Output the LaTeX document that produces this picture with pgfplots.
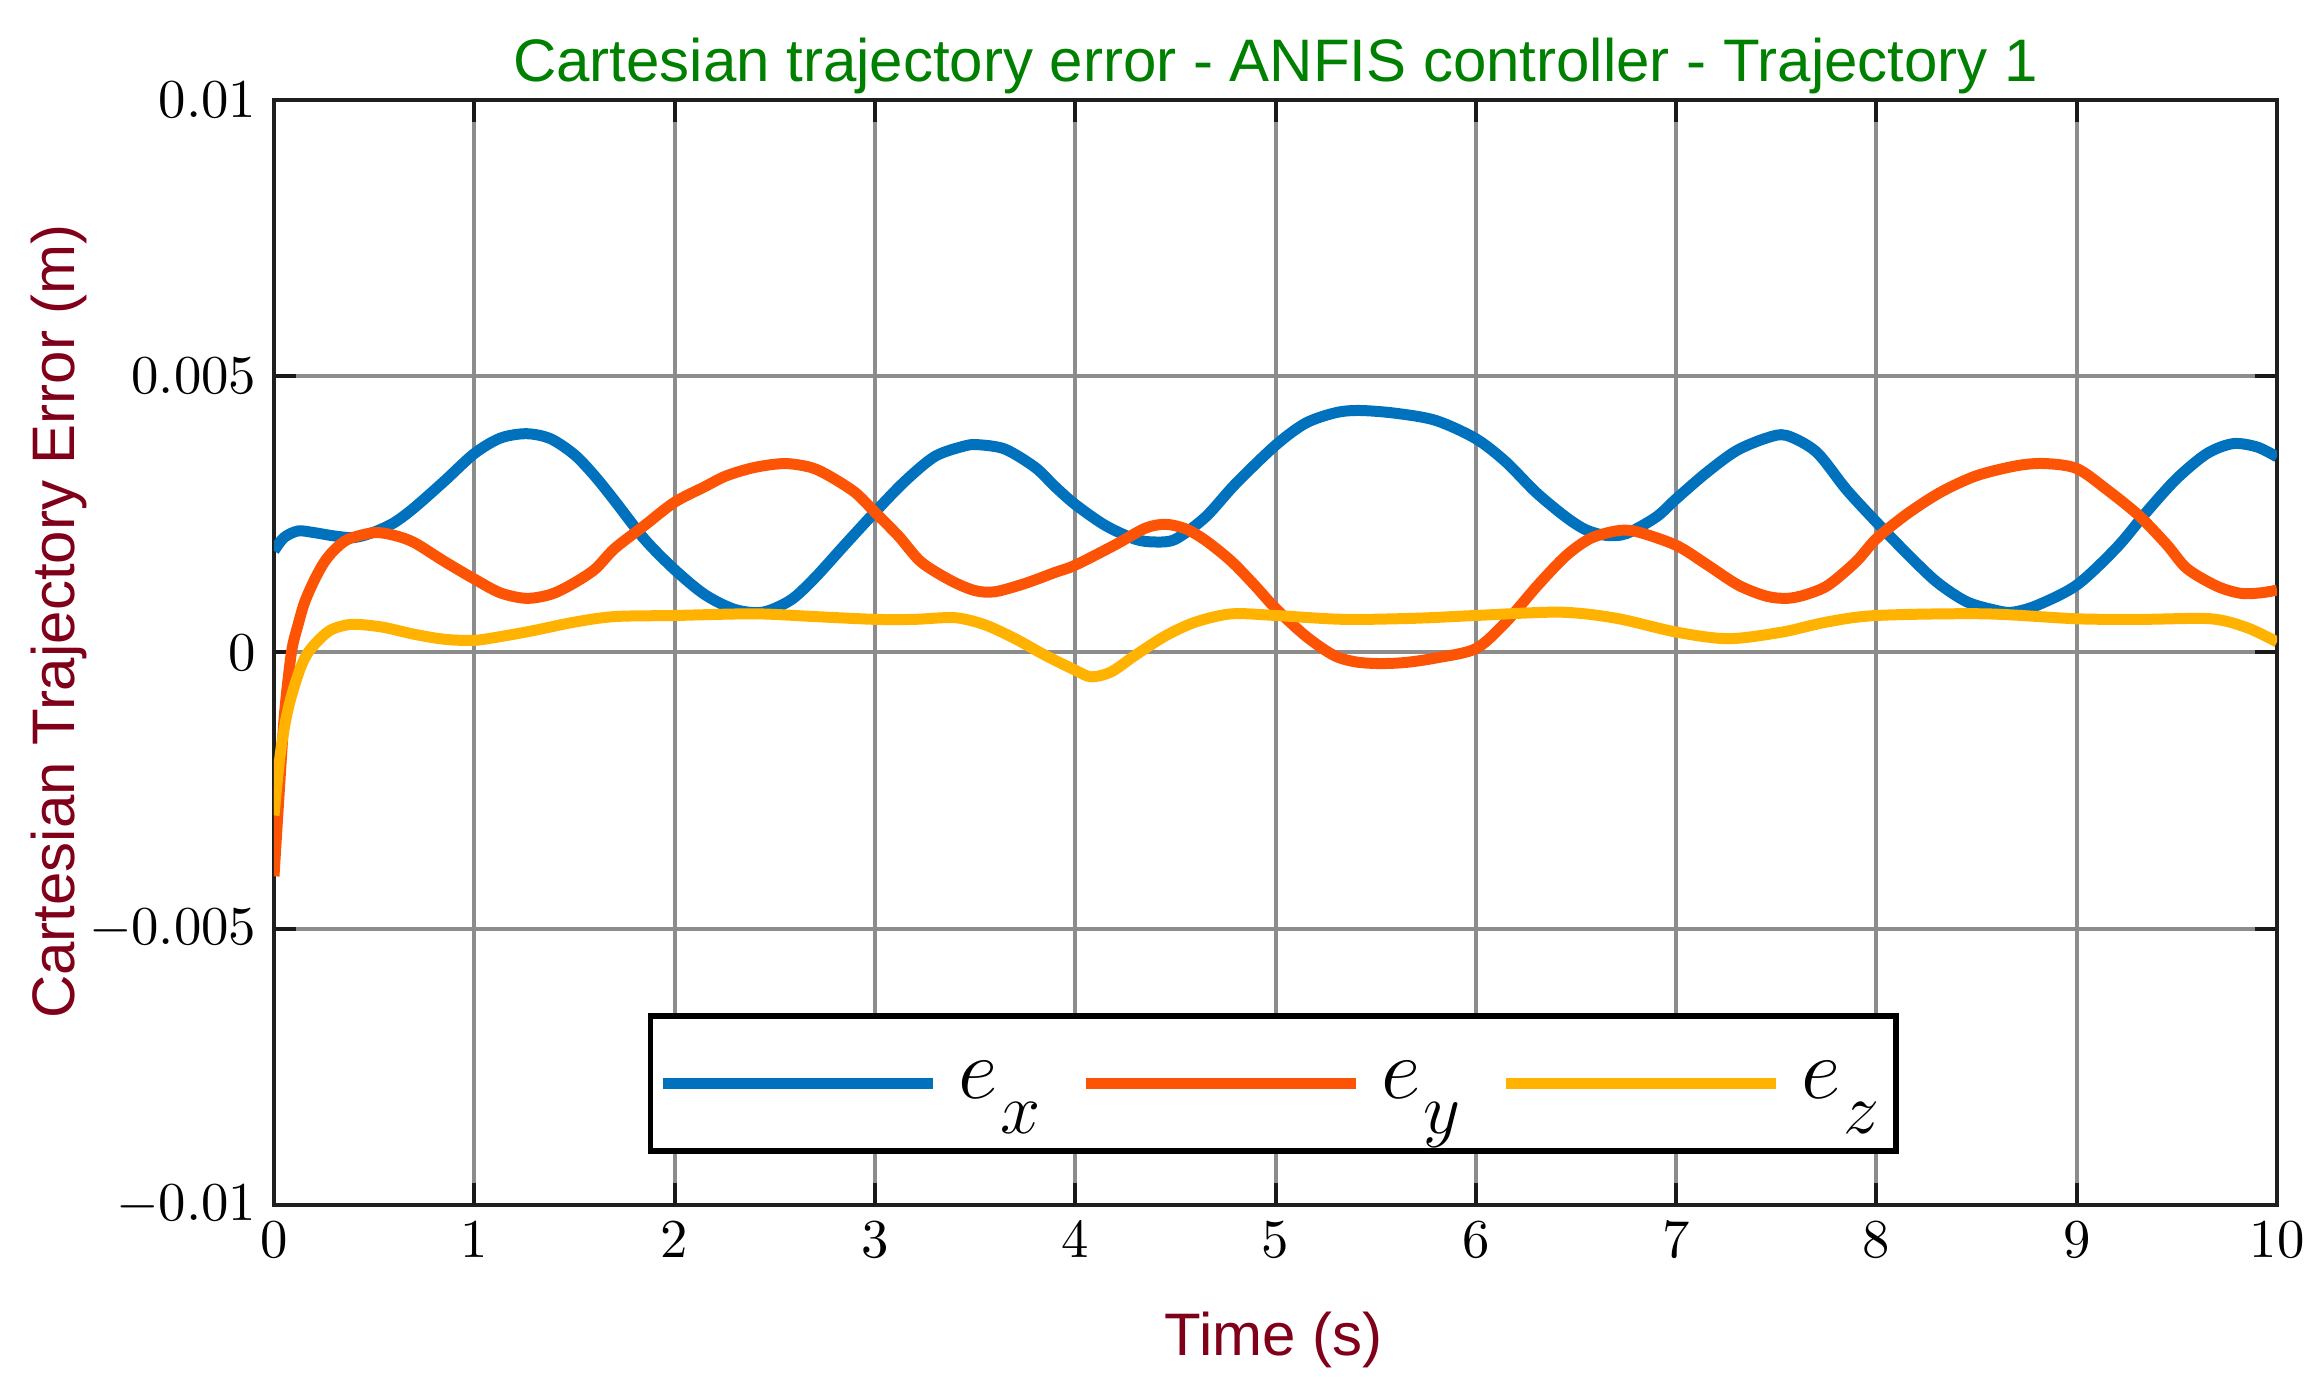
\documentclass[border=0pt]{standalone}
\usepackage{pgfplots}
\pgfplotsset{compat=1.18}
\usetikzlibrary{calc}
\usepackage{fontspec}
\newfontfamily\arial{Liberation Sans}
\definecolor{cx}{RGB}{0,114,189}
\definecolor{cy}{RGB}{252,83,5}
\definecolor{cz}{RGB}{255,178,0}
\definecolor{ttl}{RGB}{0,128,0}
\definecolor{lbl}{RGB}{128,0,25}
\newcommand{\ee}[1]{$e$\kern0.5pt\raisebox{-7pt}{\fontsize{13.5}{13.5}\selectfont$#1$}}

\pgfplotstableread{
t v
0 1.84e-3
0.05 2.08e-3
0.12 2.2e-3
0.2 2.17e-3
0.3 2.11e-3
0.4 2.08e-3
0.5 2.18e-3
0.6 2.35e-3
0.7 2.62e-3
0.85 3.1e-3
1.0 3.6e-3
1.13 3.88e-3
1.26 3.96e-3
1.38 3.87e-3
1.5 3.58e-3
1.6 3.2e-3
1.7 2.75e-3
1.85 2.05e-3
2.0 1.5e-3
2.15 1.05e-3
2.3 0.78e-3
2.44 0.73e-3
2.58 0.95e-3
2.7 1.35e-3
2.85 1.95e-3
3.0 2.54e-3
3.15 3.1e-3
3.3 3.55e-3
3.45 3.74e-3
3.52 3.76e-3
3.65 3.68e-3
3.8 3.35e-3
3.9 3.0e-3
4.0 2.68e-3
4.15 2.3e-3
4.3 2.05e-3
4.4 2.0e-3
4.5 2.05e-3
4.65 2.45e-3
4.8 3.05e-3
5.0 3.75e-3
5.15 4.15e-3
5.3 4.34e-3
5.42 4.38e-3
5.6 4.33e-3
5.8 4.2e-3
6.0 3.87e-3
6.15 3.45e-3
6.3 2.9e-3
6.45 2.45e-3
6.55 2.22e-3
6.65 2.12e-3
6.75 2.15e-3
6.9 2.45e-3
7.0 2.78e-3
7.15 3.25e-3
7.3 3.65e-3
7.45 3.88e-3
7.55 3.93e-3
7.7 3.63e-3
7.85 2.95e-3
8.0 2.36e-3
8.15 1.8e-3
8.3 1.28e-3
8.45 0.92e-3
8.6 0.76e-3
8.68 0.73e-3
8.8 0.85e-3
9.0 1.22e-3
9.2 1.9e-3
9.35 2.55e-3
9.5 3.15e-3
9.65 3.6e-3
9.78 3.78e-3
9.9 3.72e-3
10 3.54e-3
}\ex

\pgfplotstableread{
t v
0 -4.05e-3
0.03 -2.3e-3
0.053 -1.09e-3
0.087 0
0.12 0.5e-3
0.153 0.91e-3
0.2 1.3e-3
0.25 1.63e-3
0.3 1.85e-3
0.37 2.05e-3
0.5 2.17e-3
0.6 2.12e-3
0.7 1.99e-3
0.85 1.65e-3
1.0 1.33e-3
1.13 1.08e-3
1.26 0.98e-3
1.38 1.05e-3
1.48 1.22e-3
1.6 1.5e-3
1.7 1.88e-3
1.85 2.3e-3
2.0 2.72e-3
2.15 3.0e-3
2.26 3.2e-3
2.4 3.35e-3
2.55 3.42e-3
2.68 3.35e-3
2.77 3.2e-3
2.9 2.9e-3
3.0 2.54e-3
3.12 2.1e-3
3.23 1.64e-3
3.38 1.3e-3
3.5 1.12e-3
3.6 1.1e-3
3.75 1.25e-3
3.9 1.45e-3
4.0 1.58e-3
4.2 1.95e-3
4.35 2.25e-3
4.45 2.32e-3
4.55 2.24e-3
4.65 2.03e-3
4.78 1.65e-3
4.9 1.2e-3
5.0 0.8e-3
5.15 0.3e-3
5.29 -0.05e-3
5.4 -0.17e-3
5.52 -0.2e-3
5.65 -0.18e-3
5.8 -0.1e-3
6.0 0.07e-3
6.15 0.55e-3
6.31 1.22e-3
6.45 1.75e-3
6.57 2.06e-3
6.7 2.2e-3
6.8 2.19e-3
7.0 1.94e-3
7.15 1.6e-3
7.31 1.22e-3
7.45 1.02e-3
7.555 0.98e-3
7.65 1.05e-3
7.76 1.22e-3
7.9 1.65e-3
8.0 2.06e-3
8.15 2.5e-3
8.32 2.9e-3
8.5 3.2e-3
8.7 3.38e-3
8.84 3.42e-3
9.0 3.33e-3
9.15 2.95e-3
9.31 2.48e-3
9.45 1.95e-3
9.55 1.52e-3
9.7 1.2e-3
9.82 1.07e-3
9.92 1.08e-3
10 1.13e-3
}\ey

\pgfplotstableread{
t v
0 -2.95e-3
0.02 -2.2e-3
0.037 -1.69e-3
0.06 -1.2e-3
0.087 -0.79e-3
0.13 -0.3e-3
0.17 0
0.23 0.25e-3
0.29 0.42e-3
0.39 0.51e-3
0.54 0.46e-3
0.7 0.33e-3
0.85 0.24e-3
1.0 0.22e-3
1.15 0.3e-3
1.3 0.4e-3
1.5 0.55e-3
1.7 0.65e-3
2.0 0.67e-3
2.4 0.7e-3
2.7 0.65e-3
3.0 0.6e-3
3.2 0.6e-3
3.4 0.63e-3
3.55 0.5e-3
3.7 0.25e-3
3.85 -0.05e-3
4.0 -0.32e-3
4.08 -0.44e-3
4.18 -0.35e-3
4.3 -0.05e-3
4.45 0.3e-3
4.6 0.55e-3
4.78 0.7e-3
5.0 0.67e-3
5.34 0.6e-3
5.7 0.62e-3
6.0 0.67e-3
6.42 0.73e-3
6.7 0.62e-3
7.0 0.37e-3
7.26 0.25e-3
7.53 0.37e-3
7.75 0.55e-3
8.0 0.67e-3
8.54 0.7e-3
9.0 0.61e-3
9.33 0.6e-3
9.67 0.61e-3
9.85 0.45e-3
10 0.19e-3
}\ez

\begin{document}
\begin{tikzpicture}
\begin{axis}[
  name=ax,
  width=400.6pt, height=221pt, scale only axis,
  xmin=0, xmax=10, ymin=-0.01, ymax=0.01,
  xtick={0,1,...,10},
  ytick={-0.01,-0.005,0,0.005,0.01},
  yticklabels={$-0.01$,$-0.005$,$0$,$0.005$,$0.01$},
  scaled y ticks=false,
  tick align=inside,
  major tick length=4.5pt,
  tick style={black!90, line width=0.8pt},
  grid=major,
  grid style={line width=0.8pt, color=black!45},
  axis line style={line width=0.9pt, black!88},
  ticklabel style={font=\fontsize{10.5}{12}\selectfont},
  xticklabel style={inner xsep=0pt},
  every axis title shift=0pt,
  title={Cartesian trajectory error - ANFIS controller - Trajectory 1},
  title style={at={(axis description cs:0.5,1.0163)}, anchor=base, font=\arial\fontsize{12}{14}\selectfont, text=ttl, inner sep=0pt},
  xlabel={Time (s)},
  xlabel style={at={(axis description cs:0.499,-0.136)}, anchor=base, font=\arial\fontsize{12}{14}\selectfont, text=lbl, inner sep=0pt},
  ylabel={Cartesian Trajectory Error (m)},
  ylabel style={at={(axis description cs:-0.0994,0.528)}, anchor=base, font=\arial\fontsize{12}{14}\selectfont, text=lbl, inner sep=0pt},
  legend columns=3,
  legend style={at={(axis description cs:0.4988,0.110)}, anchor=center, draw=black, line width=1.1pt, fill=white, inner xsep=1.3pt, inner ysep=7pt,
    font=\fontsize{16.5}{18}\selectfont,
    /tikz/every even column/.append style={column sep=6pt}},
  legend image code/.code={\draw[#1, line width=2.3pt] (0pt,0pt) -- (54pt,0pt);},
  every axis plot/.append style={line width=2.2pt, line join=round},
]
\addplot[cx, smooth] table[x=t, y=v] {\ex};
\addlegendentry{\kern2pt\ee{x}}
\addplot[cy, smooth] table[x=t, y=v] {\ey};
\addlegendentry{\kern2pt\ee{y}}
\addplot[cz, smooth] table[x=t, y=v] {\ez};
\addlegendentry{\kern2pt\ee{z}}
\end{axis}
\path ($(ax.south west)+(-54.8pt,-37.2pt)$) rectangle ($(ax.north east)+(6.4pt,20pt)$);
\end{tikzpicture}
\end{document}
